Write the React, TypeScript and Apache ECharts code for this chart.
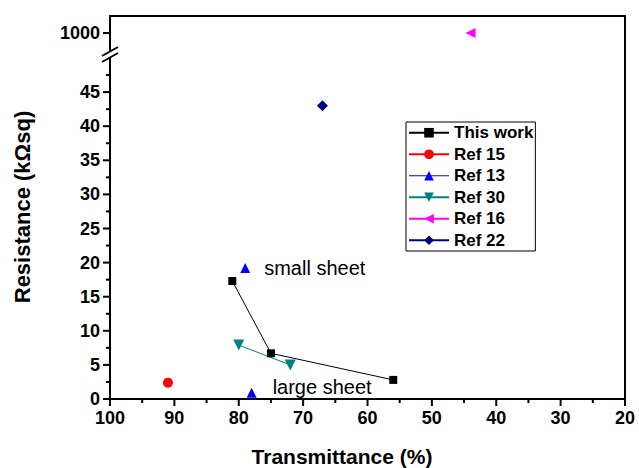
import React, { useEffect, useRef } from "react";
import * as echarts from "echarts";

// Data
const xThisWork = [81, 75, 56];
const yThisWork = [17.3, 6.7, 2.8];
const xRef15 = [91];
const yRef15 = [2.4];
const xRef13 = [79, 78];
const yRef13 = [19.2, 0.9];
const ref13Notes = ["small sheet", "large sheet"];
const xRef30 = [80, 72];
const yRef30 = [7.9, 5.0];
const xRef16 = [44];
const yRef16 = [1000];
const xRef22 = [67];
const yRef22 = [43];

// Tick positions (major + minor)
const xTickValues = [100, 95, 90, 85, 80, 75, 70, 65, 60, 55, 50, 45, 40, 35, 30, 25, 20];
const yLowTickValues = [0, 2.5, 5, 7.5, 10, 12.5, 15, 17.5, 20, 22.5, 25, 27.5, 30, 32.5, 35, 37.5, 40, 42.5, 45, 47.5];
const yHighTicks = [1000];
const yLowMaxLabel = 45;

const FONT = "'Liberation Sans', Arial, sans-serif";

const pairs = (xs: number[], ys: number[]) => xs.map((x, i) => [x, ys[i]]);

const mkLine = () => ({ show: true, onZero: false, lineStyle: { color: "#000", width: 2 } });
const mkLabel = () => ({ color: "#000", fontFamily: FONT, fontWeight: "bold", fontSize: 18, margin: 10 });

export default function App() {
  const ref = useRef<HTMLDivElement>(null);
  useEffect(() => {
    if (!ref.current) return;
    const chart = echarts.init(ref.current, null, { renderer: "svg" });

    const tickSeries = (
      xi: number,
      values: number[][],
      horizontal: boolean,
      majorStep: number
    ) => ({
      type: "custom",
      xAxisIndex: xi,
      yAxisIndex: xi,
      silent: true,
      clip: false,
      z: 5,
      data: values,
      renderItem: (_p: any, api: any) => {
        const p = api.coord([api.value(0), api.value(1)]);
        const v = horizontal ? api.value(0) : api.value(1);
        const len = Math.abs(v % majorStep) < 1e-6 ? 7 : 4;
        return {
          type: "line",
          shape: horizontal
            ? { x1: p[0], y1: p[1], x2: p[0], y2: p[1] + len }
            : { x1: p[0], y1: p[1], x2: p[0] - len, y2: p[1] },
          style: { stroke: "#000", lineWidth: 2 },
        };
      },
    });

    const option: any = {
      animation: false,
      backgroundColor: "#fff",
      grid: [
        { left: 110, right: 14, top: 16, height: 34 },
        { left: 110, right: 14, top: 58, bottom: 69 },
      ],
      xAxis: [
        {
          gridIndex: 0,
          type: "value",
          position: "top",
          min: 20,
          max: 100,
          interval: 10,
          inverse: true,
          axisLine: mkLine(),
          axisTick: { show: false },
          axisLabel: { show: false },
          splitLine: { show: false },
        },
        {
          gridIndex: 1,
          type: "value",
          min: 20,
          max: 100,
          interval: 10,
          inverse: true,
          axisLine: mkLine(),
          axisTick: { show: false },
          axisLabel: { ...mkLabel(), formatter: (v: number) => String(v) },
          splitLine: { show: false },
        },
      ],
      yAxis: [
        {
          gridIndex: 0,
          type: "value",
          min: 950,
          max: 1050,
          interval: 50,
          axisLine: mkLine(),
          axisTick: { show: false },
          axisLabel: { ...mkLabel(), customValues: yHighTicks, formatter: (v: number) => String(v) },
          splitLine: { show: false },
        },
        {
          gridIndex: 1,
          type: "value",
          min: 0,
          max: 50,
          interval: 5,
          axisLine: mkLine(),
          axisTick: { show: false },
          axisLabel: { ...mkLabel(), formatter: (v: number) => (v > yLowMaxLabel ? "" : String(v)) },
          splitLine: { show: false },
        },
      ],
      legend: {
        orient: "vertical",
        left: 406,
        top: 122,
        padding: [2, 2, 2, 2],
        itemWidth: 40,
        itemHeight: 12,
        itemGap: 4,
        borderColor: "#000",
        borderWidth: 1,
        borderRadius: 0,
        textStyle: { color: "#000", fontFamily: FONT, fontWeight: "bold", fontSize: 17, lineHeight: 17.5 },
        data: [
          { name: "This work" },
          { name: "Ref 15" },
          { name: "Ref 13", lineStyle: { opacity: 1, width: 1 } },
          { name: "Ref 30" },
          { name: "Ref 16" },
          { name: "Ref 22" },
        ],
      },
      series: [
        {
          name: "This work",
          type: "line",
          xAxisIndex: 1,
          yAxisIndex: 1,
          data: pairs(xThisWork, yThisWork),
          symbol: "rect",
          symbolSize: 8,
          itemStyle: { color: "#000" },
          lineStyle: { color: "#000", width: 1 },
        },
        {
          name: "Ref 15",
          type: "line",
          xAxisIndex: 1,
          yAxisIndex: 1,
          data: pairs(xRef15, yRef15),
          symbol: "circle",
          symbolSize: 10,
          itemStyle: { color: "#ff0000" },
          lineStyle: { color: "#ff0000", width: 1 },
        },
        {
          name: "Ref 13",
          type: "line",
          xAxisIndex: 1,
          yAxisIndex: 1,
          data: xRef13.map((x, i) => ({
            value: [x, yRef13[i]],
            label: {
              show: true,
              formatter: ref13Notes[i],
              position: "right",
              distance: i === 0 ? 14 : 16,
              offset: i === 0 ? [0, 0] : [0, -6],
              color: "#000",
              fontFamily: FONT,
              fontSize: 20,
            },
          })),
          symbol: "triangle",
          symbolSize: 10,
          itemStyle: { color: "#0000ff" },
          lineStyle: { color: "#0000ff", width: 1, opacity: 0 },
        },
        {
          name: "Ref 30",
          type: "line",
          xAxisIndex: 1,
          yAxisIndex: 1,
          data: pairs(xRef30, yRef30),
          symbol: "triangle",
          symbolRotate: 180,
          symbolSize: 11,
          itemStyle: { color: "#008080" },
          lineStyle: { color: "#008080", width: 1 },
        },
        {
          name: "Ref 16",
          type: "line",
          xAxisIndex: 0,
          yAxisIndex: 0,
          data: pairs(xRef16, yRef16),
          symbol: "triangle",
          symbolRotate: 90,
          symbolSize: 10,
          itemStyle: { color: "#ff00ff" },
          lineStyle: { color: "#ff00ff", width: 1 },
        },
        {
          name: "Ref 22",
          type: "line",
          xAxisIndex: 1,
          yAxisIndex: 1,
          data: pairs(xRef22, yRef22),
          symbol: "diamond",
          symbolSize: 11,
          itemStyle: { color: "#000080" },
          lineStyle: { color: "#000080", width: 1 },
        },
        // axis ticks drawn through the axes' own scales
        tickSeries(1, xTickValues.map((v) => [v, 0]), true, 10),
        tickSeries(1, yLowTickValues.map((v) => [100, v]), false, 5),
        tickSeries(0, yHighTicks.map((v) => [100, v]), false, 50),
      ],
      graphic: [
        // right frame line
        { type: "line", shape: { x1: 625, y1: 15, x2: 625, y2: 400 }, style: { stroke: "#000", lineWidth: 2 } },
        // axis break marks
        { type: "line", shape: { x1: 102, y1: 56, x2: 118, y2: 47 }, style: { stroke: "#000", lineWidth: 2 } },
        { type: "line", shape: { x1: 102, y1: 62, x2: 118, y2: 53 }, style: { stroke: "#000", lineWidth: 2 } },
        // axis titles
        {
          type: "text",
          x: 342,
          y: 456,
          style: {
            text: "Transmittance (%)",
            fill: "#000",
            font: `bold 21px ${FONT}`,
            textAlign: "center",
            textVerticalAlign: "middle",
          },
        },
        {
          type: "text",
          x: 22,
          y: 207,
          rotation: Math.PI / 2,
          style: {
            text: "Resistance (kΩsq)",
            fill: "#000",
            font: `bold 22px ${FONT}`,
            textAlign: "center",
            textVerticalAlign: "middle",
          },
        },
      ],
    };
    chart.setOption(option);
    return () => chart.dispose();
  }, []);
  return <div ref={ref} style={{ width: 639, height: 468, position: "absolute", left: 0, top: 0 }} />;
}
